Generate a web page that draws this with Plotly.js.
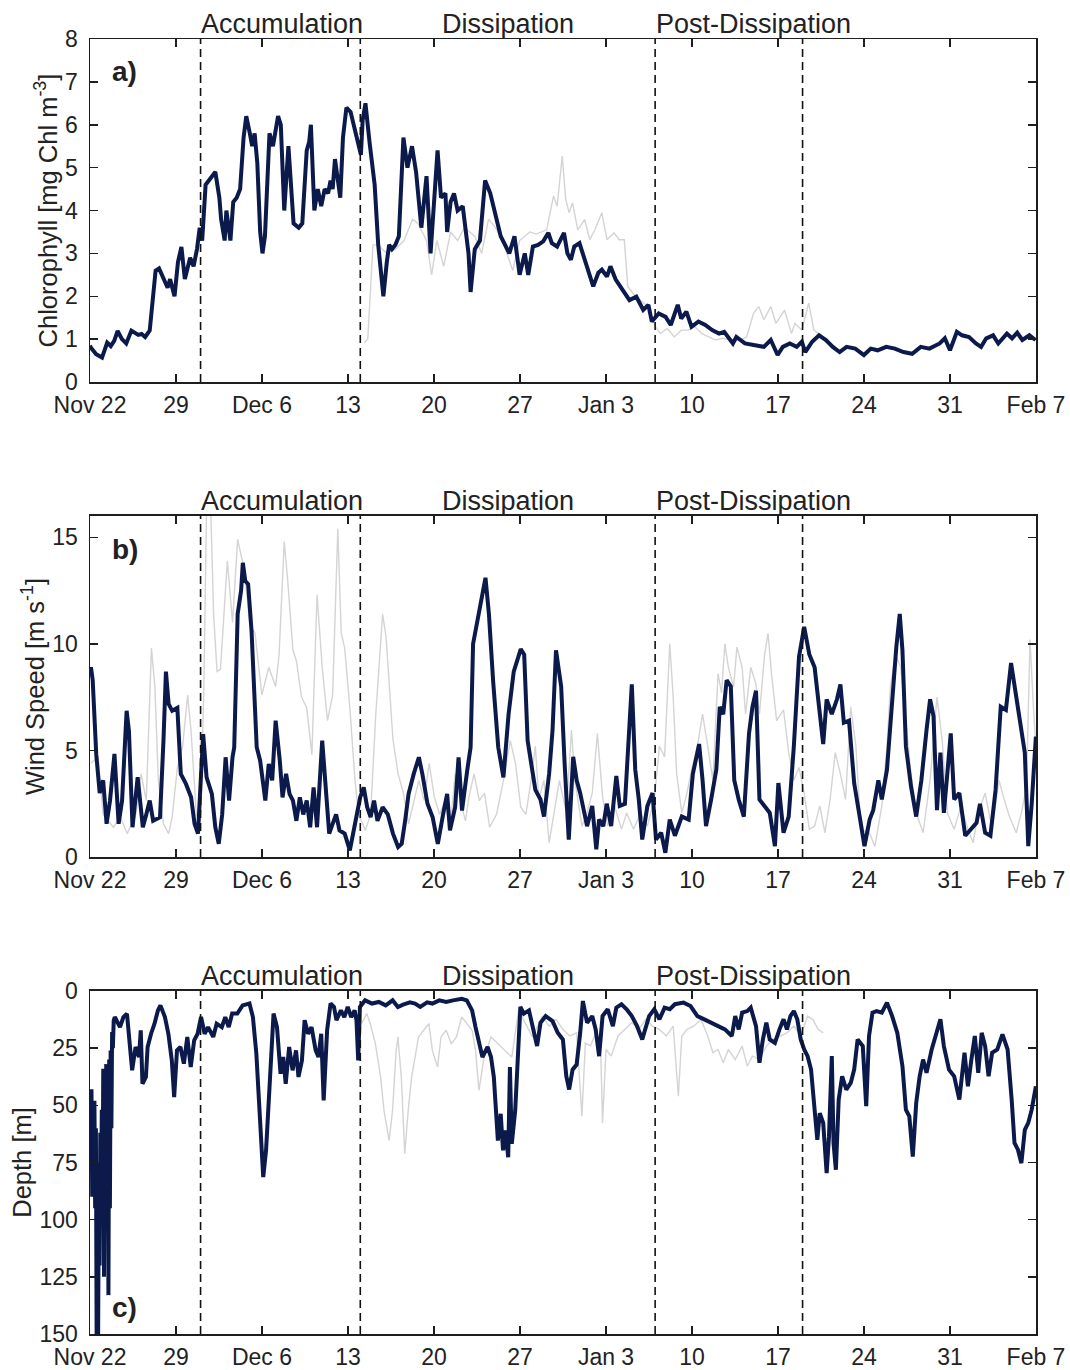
<!DOCTYPE html>
<html>
<head>
<meta charset="utf-8">
<script src="https://cdn.plot.ly/plotly-3.0.1.min.js"></script>
<style>
  html, body { margin: 0; padding: 0; background: #ffffff; }
  #chart { width: 1070px; height: 1370px; }
</style>
</head>
<body>
<div id="chart"></div>
<script>
// Time is given in days after Nov 22 (Nov 22 = day 0, Feb 7 = day 77).

// ---- a) Chlorophyll [mg Chl m-3] ----
const chlDay = [0.0,0.08,0.5,0.98,1.40,1.69,1.97,2.25,2.6,2.95,3.37,3.93,4.2,4.49,4.86,5.34,5.62,6.04,6.32,6.52,6.88,7.16,7.44,7.72,8.15,8.43,8.71,8.93,9.13,9.41,9.69,10.20,10.53,10.67,10.96,11.10,11.43,11.66,11.94,12.22,12.50,12.72,13.01,13.20,13.40,13.62,13.85,14.04,14.24,14.61,14.89,15.31,15.53,15.81,16.15,16.57,16.99,17.28,17.64,17.84,17.98,18.26,18.54,18.82,19.10,19.38,19.58,19.75,19.94,20.37,20.59,20.87,21.21,21.63,22.05,22.19,22.42,22.75,23.03,23.17,23.46,23.88,24.16,24.35,24.58,24.86,25.14,25.51,25.84,26.21,26.54,26.97,27.39,27.72,28.29,28.57,28.93,29.07,29.35,29.63,29.92,30.34,30.81,30.98,31.32,31.74,32.16,32.58,33.43,34.13,34.55,34.97,35.39,35.67,36.05,36.47,36.89,37.31,37.59,38.02,38.58,38.86,39.14,39.42,39.84,40.40,40.96,41.38,41.66,42.08,42.36,42.79,43.35,43.91,44.47,45.03,45.45,45.73,46.29,46.85,47.27,47.84,48.12,48.54,48.96,49.52,50.08,50.64,51.20,51.62,52.33,52.61,53.31,54.01,54.85,55.41,55.97,56.39,56.96,57.52,57.94,58.22,58.78,59.34,59.90,60.46,61.02,61.58,62.29,62.99,63.55,64.11,64.81,65.51,66.21,66.92,67.62,68.32,69.16,69.58,70.00,70.56,70.98,71.55,72.11,72.53,72.95,73.51,73.93,74.63,75.05,75.47,75.89,76.46,76.96];
const chlMooring = [0.85,0.8,0.65,0.57,0.92,0.84,0.96,1.19,1.0,0.9,1.2,1.1,1.12,1.05,1.2,2.6,2.65,2.4,2.2,2.4,2.0,2.8,3.15,2.4,2.9,2.7,3.1,3.6,3.3,4.6,4.7,4.9,4.3,3.8,3.3,4.0,3.3,4.2,4.3,4.5,5.7,6.2,5.8,5.5,5.8,5.1,3.5,3.0,3.4,5.8,5.5,6.2,6.0,4.0,5.5,3.7,3.6,3.7,5.4,5.6,6.0,4.0,4.5,4.1,4.5,4.4,4.7,4.5,5.2,4.3,5.7,6.4,6.3,5.8,5.3,6.1,6.5,5.6,5.0,4.6,3.2,2.0,2.8,3.2,3.1,3.2,3.4,5.7,5.0,5.5,4.9,3.6,4.8,3.0,5.4,4.3,4.4,3.5,4.2,4.4,4.0,4.1,3.0,2.1,3.1,3.3,4.7,4.4,3.4,3.0,3.4,2.5,3.0,2.5,3.16,3.2,3.28,3.48,3.24,3.16,3.48,3.0,2.85,3.16,3.24,2.7,2.23,2.55,2.62,2.46,2.7,2.39,2.15,1.91,1.99,1.68,1.8,1.41,1.6,1.52,1.33,1.8,1.48,1.64,1.29,1.41,1.33,1.21,1.13,1.17,0.9,1.05,0.9,0.86,0.82,0.98,0.63,0.82,0.9,0.82,0.94,0.7,0.94,1.09,0.98,0.82,0.7,0.82,0.78,0.63,0.78,0.74,0.82,0.78,0.7,0.66,0.82,0.78,0.9,1.02,0.74,1.17,1.09,1.05,0.9,0.82,1.02,1.09,0.9,1.13,1.02,1.15,0.98,1.09,0.98];

const chlRefDay = [22.33,22.61,23.03,23.46,24.16,24.86,25.56,26.26,26.69,27.39,27.81,28.23,28.79,29.35,29.92,30.48,31.32,31.88,32.44,33.01,33.57,34.41,34.97,35.81,36.33,37.17,37.73,38.02,38.44,38.72,39.00,39.28,39.70,40.26,40.68,41.10,41.66,42.08,42.65,43.07,43.49,43.77,44.19,44.75,45.45,46.01,46.43,46.99,47.56,48.12,48.68,49.24,49.80,50.36,50.92,51.48,52.33,52.89,53.45,54.01,54.43,54.85,55.41,55.83,56.53,57.10,57.38,57.94,58.50,58.92,59.34,59.62];
const chlReference = [0.92,1.0,3.2,3.2,3.0,3.1,3.3,3.8,3.7,3.3,2.5,3.3,2.7,3.5,3.3,3.6,3.4,3.0,3.8,3.6,3.3,2.6,3.3,3.5,3.45,3.55,4.34,4.1,5.27,4.26,3.95,4.18,3.55,3.79,3.32,3.55,3.95,3.32,3.48,3.32,3.32,2.23,2.07,1.91,1.76,1.29,1.13,1.25,1.05,1.21,1.21,1.29,1.13,1.05,0.98,1.02,0.98,0.98,1.05,1.6,1.76,1.45,1.76,1.37,1.68,1.13,1.37,1.21,1.84,1.21,1.13,1.05];

// ---- b) Wind speed [m s-1] ----
const windDay = [0.0,0.08,0.22,0.51,0.79,1.07,1.35,1.63,1.99,2.33,2.61,2.98,3.17,3.46,3.88,4.30,4.58,4.86,5.14,5.70,5.98,6.18,6.40,6.69,7.11,7.39,7.81,8.23,8.51,8.79,9.21,9.49,9.92,10.20,10.48,10.76,11.04,11.32,11.60,11.74,12.02,12.30,12.44,12.64,12.87,13.15,13.57,13.85,14.27,14.55,14.83,15.11,15.45,15.67,15.96,16.24,16.52,16.80,17.08,17.36,17.64,17.92,18.20,18.48,18.90,19.19,19.47,19.75,20.03,20.31,20.73,21.15,21.43,21.71,21.99,22.28,22.56,22.84,23.12,23.40,23.82,24.24,24.66,25.08,25.37,25.65,25.93,26.35,26.77,27.05,27.47,27.89,28.31,28.74,29.07,29.30,29.72,30.00,30.28,30.70,30.98,31.18,31.54,31.83,32.19,32.47,32.81,33.23,33.65,34.07,34.49,35.06,35.34,35.62,36.25,36.67,36.95,37.37,37.65,37.93,38.13,38.35,38.63,38.97,39.33,39.61,39.90,40.18,40.46,40.88,41.21,41.44,41.78,42.06,42.42,42.84,43.12,43.54,43.82,44.10,44.38,44.67,44.95,45.37,45.79,46.07,46.49,46.83,47.19,47.61,48.17,48.73,49.07,49.30,49.58,49.86,50.14,50.56,50.98,51.26,51.54,51.82,52.16,52.44,52.80,53.22,53.64,53.92,54.21,54.49,54.91,55.33,55.75,56.03,56.45,56.87,57.29,57.71,58.13,58.55,58.98,59.40,59.68,59.96,60.38,60.80,61.08,61.36,61.78,62.20,62.62,63.04,63.46,63.75,64.17,64.45,64.87,65.29,65.63,65.91,66.13,66.41,66.83,67.25,67.67,68.09,68.38,68.66,68.94,69.22,69.50,69.78,70.06,70.34,70.76,71.24,71.74,72.16,72.44,72.86,73.29,73.71,74.13,74.55,74.97,75.25,75.67,76.09,76.37,76.65,76.99];
const windMooring = [8.6,8.9,8.3,4.8,3.0,3.6,1.56,2.65,4.84,1.56,2.65,6.86,5.9,1.4,3.74,1.4,2.0,2.65,1.7,1.87,5.46,8.7,7.18,6.86,7.0,3.9,3.43,2.8,1.56,1.1,5.77,3.74,2.96,1.4,0.62,2.0,4.68,2.65,4.68,5.15,11.4,12.5,13.8,12.95,12.8,10.6,5.15,4.52,2.65,4.37,3.6,6.4,4.52,2.8,3.9,2.96,2.65,1.7,2.8,2.0,2.65,1.4,3.27,1.4,5.46,3.27,1.1,1.56,2.0,1.25,1.1,0.31,1.1,2.0,2.8,3.27,2.34,1.87,2.65,1.7,2.34,2.0,1.1,0.47,0.62,1.7,2.96,3.9,4.68,3.9,2.5,1.87,0.62,2.0,2.96,1.25,2.34,4.68,2.18,4.05,5.15,10.0,11.1,12.0,13.1,11.4,8.27,5.15,3.74,6.7,8.7,9.75,9.5,5.46,3.15,2.7,1.9,3.9,5.96,9.7,8.9,8.0,4.4,0.82,4.7,3.6,3.0,2.2,1.45,2.4,0.36,1.76,1.45,2.5,1.45,3.8,2.4,2.5,5.5,8.1,4.1,2.7,0.82,2.4,3.0,0.82,1.14,0.2,1.76,1.0,1.9,1.76,3.9,4.56,5.3,3.6,1.45,2.7,4.1,7.05,6.7,8.3,8.0,3.6,2.7,1.9,5.8,7.05,7.8,2.7,2.4,2.07,0.51,3.47,1.14,1.9,5.2,9.4,10.8,9.5,8.9,6.7,5.3,7.4,6.7,7.4,8.1,6.3,6.4,3.47,2.07,0.51,1.76,2.2,3.6,2.7,4.1,7.5,9.85,11.4,9.7,5.2,3.3,1.9,3.6,5.96,7.4,6.6,2.2,4.9,2.07,3.9,5.8,2.7,3.0,1.0,1.3,1.6,2.5,1.14,1.0,3.15,7.05,6.9,9.1,8.0,6.4,4.9,0.51,2.5,5.65];

const windRefDay = [0.08,0.65,1.07,1.91,2.47,3.03,3.74,4.16,4.58,5.00,5.28,5.56,5.98,6.40,6.69,7.11,7.53,7.95,8.23,8.65,8.99,9.27,9.49,9.83,10.06,10.34,10.62,11.18,11.60,12.02,12.58,13.01,13.43,13.99,14.55,15.11,15.39,15.81,16.10,16.52,16.80,17.22,17.64,18.06,18.48,18.90,19.33,19.75,20.17,20.45,20.73,21.15,21.57,21.85,22.42,22.84,23.26,23.54,23.82,24.10,24.38,24.66,25.08,25.51,25.93,26.35,26.77,27.19,27.61,28.03,28.46,28.88,29.30,29.72,30.14,30.56,30.84,31.26,31.69,32.11,32.53,33.09,33.65,34.21,34.63,35.06,35.48,35.90,36.25,36.53,36.95,37.37,37.79,38.21,38.77,39.19,39.47,40.04,40.46,40.88,41.30,41.72,42.14,42.70,43.26,43.68,44.24,44.81,45.37,45.93,46.35,46.77,47.19,47.47,47.75,48.17,48.59,49.01,49.44,49.86,50.28,50.70,51.12,51.40,51.68,51.96,52.38,52.66,53.08,53.36,53.78,54.21,54.49,54.91,55.19,55.47,55.89,56.45,56.87,57.29,57.71,58.13,58.55,58.98,59.40,59.82,60.24,60.66,61.08,61.50,61.92,62.34,62.76,63.32,63.89,64.45,64.87,65.15,65.57,65.99,66.41,66.83,67.25,67.81,68.38,68.94,69.36,69.78,70.34,70.90,71.46,71.88,72.30,72.86,73.43,73.99,74.41,74.83,75.39,75.81,76.23,76.51,76.79,77.0];
const windReference = [4.4,4.7,2.0,1.4,1.87,1.1,2.0,3.9,2.65,9.8,8.0,3.6,1.56,1.1,1.87,4.2,5.15,7.6,5.9,2.0,1.7,8.0,16.5,16.3,11.4,8.7,8.8,13.9,11.0,14.9,13.4,10.9,10.5,7.6,8.9,8.0,9.5,14.8,12.9,9.7,9.2,7.5,7.0,4.8,12.3,8.9,6.4,7.6,15.4,10.5,9.8,7.0,3.6,2.0,1.25,2.0,6.7,9.2,11.4,10.3,8.0,5.5,3.9,3.0,1.56,2.65,3.6,2.65,4.4,2.8,2.0,2.65,1.25,3.9,2.65,1.7,2.8,3.9,2.65,3.0,1.4,2.0,3.6,5.46,4.4,2.34,2.0,3.6,5.2,2.7,3.6,0.67,2.07,3.6,2.07,5.96,3.6,1.45,2.07,3.0,5.8,2.85,1.45,2.4,1.3,2.07,1.3,2.07,1.45,2.7,5.2,4.7,10.0,7.5,3.9,2.07,3.0,4.2,5.2,6.7,5.2,3.6,8.6,7.7,10.0,8.9,7.98,9.85,8.9,6.7,8.9,8.1,6.7,9.5,10.5,8.6,6.4,6.9,4.9,3.6,4.2,3.0,1.3,1.45,2.4,1.14,2.7,4.9,3.9,2.7,7.05,5.2,1.14,1.3,0.5,2.4,5.2,8.0,9.5,8.9,6.4,3.9,2.07,1.14,3.6,7.5,5.5,2.07,1.3,2.4,1.3,0.67,2.07,3.0,1.3,3.6,2.7,1.91,1.14,2.07,3.3,10.2,7.05,5.0];

// ---- c) Depth [m] ----
const depthDay = [0.00,0.06,0.12,0.18,0.24,0.30,0.36,0.42,0.48,0.54,0.60,0.66,0.72,0.78,0.84,0.90,0.96,1.02,1.08,1.14,1.20,1.26,1.32,1.38,1.44,1.50,1.56,1.62,1.68,1.74,1.80,1.86,1.93,2.02,2.44,2.72,3.01,3.29,3.43,3.71,3.99,4.13,4.27,4.55,4.69,4.97,5.25,5.53,5.73,6.10,6.38,6.66,6.85,7.08,7.36,7.64,7.92,8.20,8.48,8.76,9.04,9.33,9.61,10.03,10.31,10.73,11.01,11.29,11.57,11.99,12.42,12.98,13.26,13.54,13.76,13.96,14.10,14.33,14.52,14.80,14.94,15.22,15.51,15.73,15.93,16.21,16.49,16.77,16.97,17.25,17.47,17.75,18.03,18.37,18.60,18.82,19.02,19.30,19.58,19.86,20.06,20.42,20.70,20.98,21.26,21.54,21.69,21.83,21.97,22.39,22.95,23.51,24.07,24.63,25.06,25.48,26.04,26.46,26.88,27.44,27.87,28.43,28.99,29.55,30.25,30.67,31.10,31.38,31.66,31.94,32.36,32.64,32.87,33.06,33.20,33.43,33.62,33.82,34.04,34.18,34.33,34.61,34.80,35.03,35.31,35.73,36.39,36.67,37.09,37.65,38.07,38.49,38.77,39.00,39.28,39.61,39.90,40.12,40.46,40.88,41.16,41.44,41.72,42.14,42.56,42.84,43.26,43.68,44.10,44.53,44.95,45.51,45.93,46.35,46.77,47.19,47.61,48.31,48.88,49.44,50.00,50.56,51.12,51.68,52.24,52.52,52.80,53.08,53.50,53.78,54.21,54.49,54.77,55.05,55.33,55.75,56.12,56.45,56.73,57.01,57.29,57.57,57.85,58.13,58.41,58.69,58.98,59.20,59.40,59.68,59.96,60.15,60.38,60.52,60.71,60.94,61.22,61.56,61.92,62.20,62.48,62.90,63.18,63.41,63.69,64.03,64.45,64.87,65.29,65.71,66.13,66.41,66.69,66.97,67.25,67.53,67.81,68.09,68.51,68.94,69.22,69.50,69.92,70.34,70.76,71.18,71.46,71.74,72.02,72.30,72.58,72.86,73.14,73.43,73.85,74.27,74.69,75.02,75.25,75.53,75.81,76.09,76.37,76.65,76.99];
const depthMooring = [45,62,43,90,50,80,48,95,60,152,75,152,85,120,62,95,52,88,34,125,40,90,32,100,40,133,30,95,26,60,18,25,13,11.4,15.8,11.4,10.0,27.4,34.7,24.5,28.9,17.2,40.6,37.6,24.5,18.7,14.3,8.5,6.3,11.4,18.7,30.4,46.4,26.0,24.5,31.8,20.1,33.3,21.6,18.7,11.4,18.7,15.8,20.1,14.3,15.8,11.4,15.8,9.9,9.9,6.3,5.5,11.4,27.4,47.9,66.8,81.4,69.7,52.2,20.1,9.9,15.8,36.2,28.9,40.6,24.5,34.7,26.0,37.6,30.4,12.8,18.7,15.8,26.0,28.9,18.7,47.9,17.2,5.5,7.0,12.8,8.5,11.4,7.0,11.4,8.5,12.8,30.4,7.0,4.1,5.5,4.8,6.3,4.1,7.0,6.0,5.0,5.5,7.0,5.0,5.5,4.1,4.8,4.1,3.4,4.1,8.5,15.8,23.1,28.9,24.5,28.9,37.6,52.2,65.4,53.7,69.7,61.0,72.7,33.3,66.8,52.2,30.4,7.0,9.9,8.5,24.1,13.9,11.0,13.2,18.3,21.2,37.3,43.1,34.4,32.2,18.3,4.4,13.9,11.0,16.8,28.5,11.0,8.0,15.4,7.3,5.8,8.0,11.0,15.4,21.2,11.0,8.0,12.4,7.3,8.0,5.8,5.1,6.6,11.0,12.4,13.9,15.4,16.8,19.7,11.0,16.8,9.5,8.8,7.3,15.4,31.4,21.2,13.9,21.2,22.7,16.8,12.4,16.8,11.0,8.8,12.4,21.2,25.6,28.5,34.4,51.9,65.1,53.4,57.7,79.7,63.6,28.5,66.5,78.2,47.5,37.3,43.1,40.2,34.4,21.2,24.1,50.4,19.7,9.5,8.8,9.5,5.1,11.0,18.3,32.9,51.9,54.8,72.4,49.0,37.3,30.0,35.8,25.6,16.8,12.4,24.1,34.4,37.3,47.5,27.0,41.7,30.0,19.7,35.8,18.3,24.1,37.3,27.0,25.6,19.0,25.6,47.5,66.5,69.4,75.3,60.7,57.7,51.9,41.7];

const depthRefDay = [22.11,22.53,22.81,23.23,23.65,23.93,24.35,24.63,24.92,25.06,25.34,25.62,25.90,26.18,26.46,26.74,27.16,27.58,27.87,28.29,28.57,28.99,29.41,29.83,30.25,30.67,31.10,31.38,31.66,32.08,32.64,33.20,33.76,34.33,34.89,35.45,36.01,36.81,37.37,37.93,38.49,39.05,39.61,40.04,40.32,40.74,41.16,41.58,41.72,42.00,42.42,42.98,43.54,44.10,44.67,45.23,45.79,46.35,46.91,47.47,47.89,48.17,48.59,49.15,49.72,50.28,50.70,51.12,51.54,51.96,52.52,53.08,53.50,53.92,54.49,55.05,55.61,56.17,56.73,57.29,57.85,58.41,58.84,59.26,59.68];
const depthReference = [14.3,9.9,14.3,23.1,37.6,52.2,65.4,52.0,26.0,20.1,37.6,71.2,52.2,37.6,28.9,20.1,17.2,14.3,26.0,33.3,20.1,17.2,23.1,20.1,11.4,14.3,17.2,26.0,43.5,28.9,20.1,23.1,26.0,28.9,8.5,14.3,20.1,11.0,15.4,12.4,16.8,19.7,18.3,54.8,22.7,24.1,18.3,28.5,57.7,25.6,28.5,19.7,16.8,13.9,16.8,12.4,15.4,16.8,19.7,15.4,46.0,19.7,16.8,15.4,12.4,19.7,27.0,25.6,31.4,25.6,30.0,24.1,32.9,28.5,30.0,24.1,21.2,19.7,18.3,15.4,19.7,11.0,12.4,16.8,18.3];

// Phase boundaries (days after Nov 22): Dec 1, Dec 14, Jan 7, Jan 19
const phaseBoundaryDay = [9, 22, 46, 58];
const phaseNames = ['Accumulation', 'Dissipation', 'Post-Dissipation'];
const weekTickDay = [0, 7, 14, 21, 28, 35, 42, 49, 56, 63, 70, 77];
const weekTickText = ['Nov 22', '29', 'Dec 6', '13', '20', '27', 'Jan 3', '10', '17', '24', '31', 'Feb 7'];

// day offset -> Plotly date string
const ORIGIN = Date.UTC(2011, 10, 22);
function toDate(d) {
  const t = new Date(ORIGIN + Math.round(d * 86400000));
  return t.toISOString().slice(0, 19).replace('T', ' ');
}

const NAVY = '#0b1a4b';
const GREY = '#d4d4d4';
const INK = '#1e1e1e';
const FONT = 'Liberation Sans, Arial, Helvetica, sans-serif';

function series(days, vals, xa, ya, color, width) {
  return {
    type: 'scatter', mode: 'lines',
    x: days.map(toDate), y: vals,
    xaxis: xa, yaxis: ya,
    line: { color: color, width: width },
    hoverinfo: 'skip', showlegend: false
  };
}

const traces = [
  series(chlRefDay, chlReference, 'x', 'y', GREY, 1.4),
  series(chlDay, chlMooring, 'x', 'y', NAVY, 4),
  series(windRefDay, windReference, 'x2', 'y2', GREY, 1.4),
  series(windDay, windMooring, 'x2', 'y2', NAVY, 4),
  series(depthRefDay, depthReference, 'x3', 'y3', GREY, 1.4),
  series(depthDay, depthMooring, 'x3', 'y3', NAVY, 4)
];

const axisStyle = {
  showline: true, linecolor: INK, linewidth: 1.5, mirror: 'ticks',
  ticks: 'inside', ticklen: 8, tickwidth: 1.5, tickcolor: INK,
  showgrid: false, zeroline: false,
  tickfont: { family: FONT, size: 23, color: '#222' }
};

function xAxis(anchor) {
  return Object.assign({}, axisStyle, {
    type: 'date', anchor: anchor, domain: [0, 1],
    range: [toDate(0), toDate(77)],
    tickmode: 'array', tickvals: weekTickDay.map(toDate), ticktext: weekTickText,
    ticklabelstandoff: 2
  });
}

function yAxis(anchor, domain, range, tickvals, title) {
  return Object.assign({}, axisStyle, {
    anchor: anchor, domain: domain, range: range,
    tickmode: 'array', tickvals: tickvals,
    ticklabelstandoff: 6,
    title: { text: title, font: { family: FONT, size: 25.5, color: '#222' }, standoff: 0 }
  });
}

const domA = [0.7351, 1.0];
const domB = [0.3683, 0.6317];
const domC = [0.0, 0.2649];

const shapes = [];
const annotations = [];
const panels = [
  { x: 'x', y: 'y', label: 'a)', labelY: 0.904 },
  { x: 'x2', y: 'y2', label: 'b)', labelY: 0.903 },
  { x: 'x3', y: 'y3', label: 'c)', labelY: 0.076 }
];
const phaseCenters = [15.6, 34.0, 54.0];

panels.forEach(p => {
  phaseBoundaryDay.forEach(d => {
    shapes.push({
      type: 'line', xref: p.x, yref: p.y + ' domain',
      x0: toDate(d), x1: toDate(d), y0: 0, y1: 1,
      line: { color: '#111', width: 1.6, dash: '8px,5px' }
    });
  });
  phaseNames.forEach((name, i) => {
    annotations.push({
      text: name, xref: p.x, yref: p.y + ' domain',
      x: toDate(phaseCenters[i]), y: 1, xanchor: 'center', yanchor: 'bottom',
      yshift: -2, showarrow: false,
      font: { family: FONT, size: 27, color: '#222' }
    });
  });
  annotations.push({
    text: '<b>' + p.label + '</b>', xref: p.x + ' domain', yref: p.y + ' domain',
    x: 0.021, y: p.labelY, xanchor: 'left', yanchor: 'middle', showarrow: false,
    font: { family: FONT, size: 28, color: '#222' }
  });
});

const layout = {
  width: 1070, height: 1370,
  margin: { l: 90, r: 34, t: 39, b: 36 },
  paper_bgcolor: '#ffffff', plot_bgcolor: '#ffffff',
  font: { family: FONT, color: '#222' },
  showlegend: false,
  xaxis: xAxis('y'),
  xaxis2: xAxis('y2'),
  xaxis3: xAxis('y3'),
  yaxis: yAxis('x', domA, [0, 8], [0, 1, 2, 3, 4, 5, 6, 7, 8], 'Chlorophyll [mg Chl m<sup>-3</sup>]'),
  yaxis2: yAxis('x2', domB, [0, 16], [0, 5, 10, 15], 'Wind Speed [m s<sup>-1</sup>]'),
  yaxis3: yAxis('x3', domC, [150, 0], [0, 25, 50, 75, 100, 125, 150], 'Depth [m]'),
  shapes: shapes,
  annotations: annotations
};

Plotly.newPlot('chart', traces, layout, { staticPlot: true, displayModeBar: false });
</script>
</body>
</html>
